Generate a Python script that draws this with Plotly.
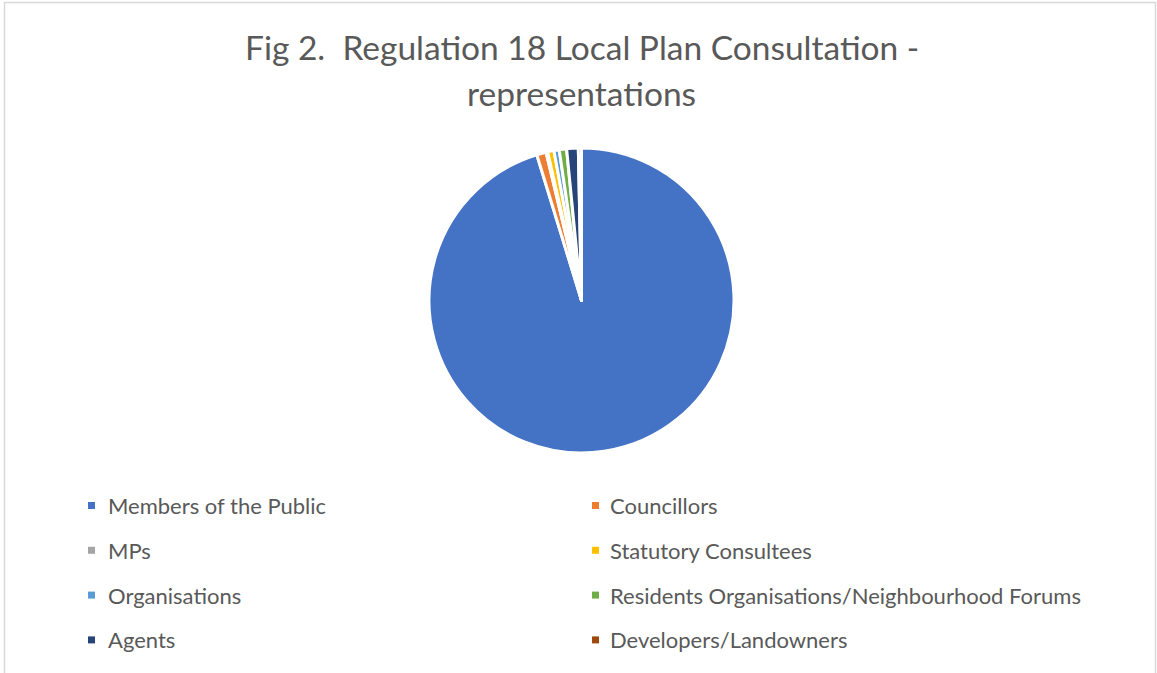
import plotly.graph_objects as go

# ---- data ----
categories = [
    "Members of the Public", "Councillors", "MPs", "Statutory Consultees",
    "Organisations", "Residents Organisations/Neighbourhood Forums",
    "Agents", "Developers/Landowners",
]
representations = [1710, 18, 3, 12, 10, 14, 22, 6]
colors = ["#4472C4", "#ED7D31", "#A5A5A5", "#FFC000",
          "#5B9BD5", "#70AD47", "#264478", "#9E480E"]
title_lines = ["Fig 2.  Regulation 18 Local Plan Consultation -", "representations"]

W, H = 1157, 673
TEXT = "#595959"
FONT = "Lato"

fig = go.Figure(go.Pie(
    labels=categories,
    values=representations,
    marker=dict(colors=colors, line=dict(color="white", width=3)),
    sort=False,
    direction="clockwise",
    rotation=0,
    textinfo="none",
    hoverinfo="label+value+percent",
    showlegend=False,
    domain=dict(x=[0.5026 - 0.3, 0.5026 + 0.3], y=[220 / H, 525 / H]),
))

annotations = []
# title lines
for i, line in enumerate(title_lines):
    annotations.append(dict(
        text=line, x=0.503, y=1 - (47 + 46 * i) / H, xref="paper", yref="paper",
        xanchor="center", yanchor="middle", showarrow=False,
        font=dict(family=FONT, size=33.5, color=TEXT),
    ))

# legend (two columns)
shapes = []
col_marker_x = [91.5, 595.5]
col_text_x = [106, 608]
row_y0, row_dy = 505.5, 44.8
for i, (lab, c) in enumerate(zip(categories, colors)):
    col, row = i % 2, i // 2
    yc = row_y0 + row * row_dy
    shapes.append(dict(
        type="rect", xref="paper", yref="paper",
        x0=(col_marker_x[col] - 3.5) / W, x1=(col_marker_x[col] + 3.5) / W,
        y0=1 - (yc + 3.5) / H, y1=1 - (yc - 3.5) / H,
        fillcolor=c, line=dict(width=0),
    ))
    annotations.append(dict(
        text=lab, x=col_text_x[col] / W, y=1 - yc / H, xref="paper", yref="paper",
        xanchor="left", yanchor="middle", showarrow=False,
        font=dict(family=FONT, size=22, color=TEXT),
    ))

# chart border
shapes.append(dict(
    type="rect", xref="paper", yref="paper",
    x0=4.5 / W, x1=1155.5 / W, y0=-0.02, y1=1 - 2.5 / H,
    line=dict(color="#D9D9D9", width=1.5), fillcolor="rgba(0,0,0,0)",
))

fig.update_layout(
    width=W, height=H,
    margin=dict(l=0, r=0, t=0, b=0),
    paper_bgcolor="white",
    plot_bgcolor="white",
    annotations=annotations,
    shapes=shapes,
)

fig.write_html("out.html")
